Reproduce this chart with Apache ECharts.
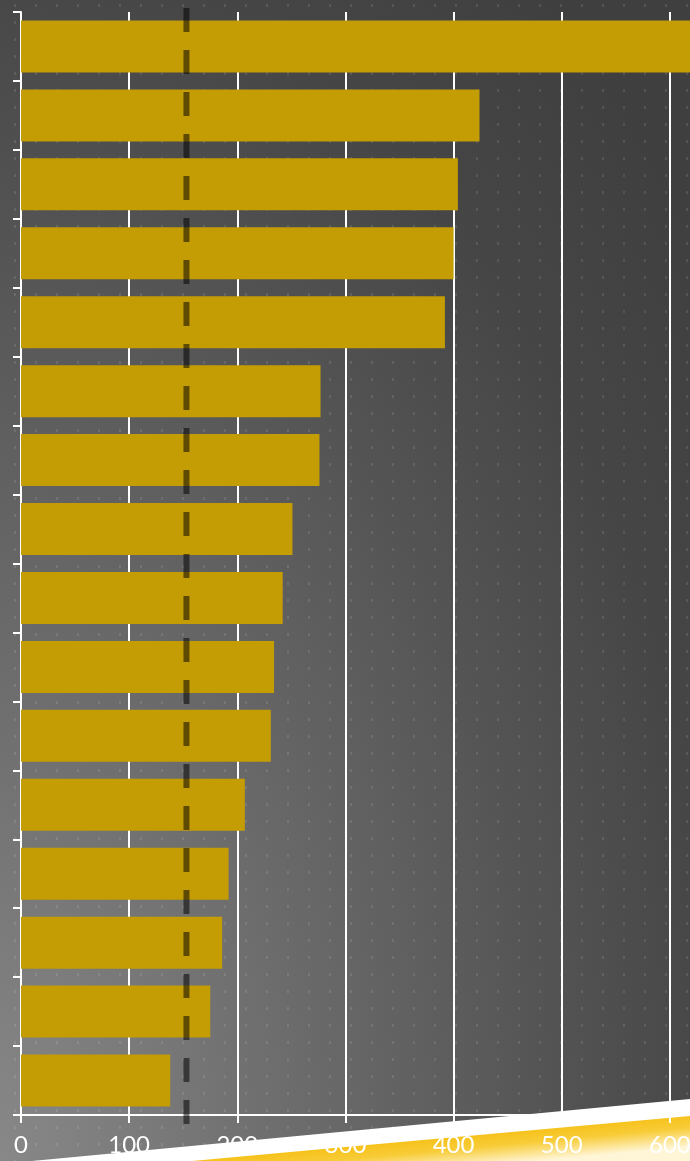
<!DOCTYPE html>
<html>
<head>
<meta charset="utf-8">
<script src="https://cdn.jsdelivr.net/npm/echarts@6/dist/echarts.min.js"></script>
<style>
html, body { margin: 0; padding: 0; width: 690px; height: 1161px; overflow: hidden; }
body {
  background-color: #404040;
  background-image:
    url("data:image/svg+xml,%3Csvg xmlns='http://www.w3.org/2000/svg' width='21' height='17'%3E%3Crect x='14' y='4' width='2' height='3' fill='%23ffffff' fill-opacity='0.1'/%3E%3C/svg%3E"),
    radial-gradient(ellipse 900px 1500px at 0% 100%, #888888 0%, #6c6c6c 33%, #555555 60%, #464646 80%, #3f3f3f 100%);
  background-repeat: repeat, no-repeat;
  background-position: 0 0, 0 0;
  background-size: 21px 17px, 100% 100%;
}
#chart { width: 690px; height: 1161px; }
</style>
</head>
<body>
<div id="chart"></div>
<script>
// ---- data ----
const categories = ['Item 1','Item 2','Item 3','Item 4','Item 5','Item 6','Item 7','Item 8',
                    'Item 9','Item 10','Item 11','Item 12','Item 13','Item 14','Item 15','Item 16'];
const values = [640, 424, 404, 400, 392, 277, 276, 251, 242, 234, 231, 207, 192, 186, 175, 138];
const xMin = 0;
const xMax = 700;
const xInterval = 100;
const refValue = 153;

const chart = echarts.init(document.getElementById('chart'), null, { renderer: 'canvas' });

const option = {
  backgroundColor: 'transparent',
  animation: false,
  grid: [
    { left: 21, top: 12, width: 757, bottom: 46, containLabel: false, outerBoundsMode: 'none' },
    { left: 21, top: 8, width: 757, bottom: 37, containLabel: false, outerBoundsMode: 'none' }
  ],
  xAxis: [
    {
      type: 'value', gridIndex: 0, min: xMin, max: xMax, interval: xInterval,
      axisLine: { show: true, lineStyle: { color: '#ffffff', width: 2 } },
      axisTick: { show: true, length: 8, lineStyle: { color: '#ffffff', width: 2 } },
      axisLabel: { show: true, color: '#ffffff', fontFamily: 'Lato', fontSize: 24, margin: 18 },
      splitLine: { show: true, lineStyle: { color: '#ffffff', width: 2 } }
    },
    {
      type: 'value', gridIndex: 1, min: xMin, max: xMax, interval: xInterval, show: false
    }
  ],
  yAxis: [
    {
      type: 'category', gridIndex: 0, data: categories, inverse: true,
      axisLine: { show: true, lineStyle: { color: '#ffffff', width: 2 } },
      axisTick: { show: true, length: 8, lineStyle: { color: '#ffffff', width: 2 } },
      axisLabel: { show: false },
      splitLine: { show: false }
    },
    { type: 'value', gridIndex: 1, min: 0, max: 1, show: false }
  ],
  series: [
    {
      type: 'bar', xAxisIndex: 0, yAxisIndex: 0, data: values,
      barWidth: 52,
      itemStyle: { color: '#c49c04' },
      silent: true
    },
    {
      type: 'line', xAxisIndex: 1, yAxisIndex: 1,
      data: [[refValue, 0], [refValue, 1]],
      showSymbol: false, symbol: 'none', silent: true, z: 5,
      lineStyle: { color: 'rgba(0,0,0,0.52)', width: 6, type: [24, 18], cap: 'butt' }
    }
  ],
  graphic: [
    {
      type: 'polygon', z: -1, silent: true,
      shape: { points: [[0, 1164], [690, 1099], [690, 1161], [0, 1161]] },
      style: { fill: '#ffffff' }
    },
    {
      type: 'polygon', z: -1, silent: true,
      shape: { points: [[192, 1161], [345, 1147], [690, 1116], [690, 1161]] },
      style: {
        fill: {
          type: 'linear', x: 440, y: 1138, x2: 443, y2: 1170, global: true,
          colorStops: [
            { offset: 0, color: '#f6c21a' },
            { offset: 0.4, color: '#f8cc38' },
            { offset: 1, color: '#fff6d8' }
          ]
        }
      }
    }
  ]
};

chart.setOption(option);
</script>
</body>
</html>
